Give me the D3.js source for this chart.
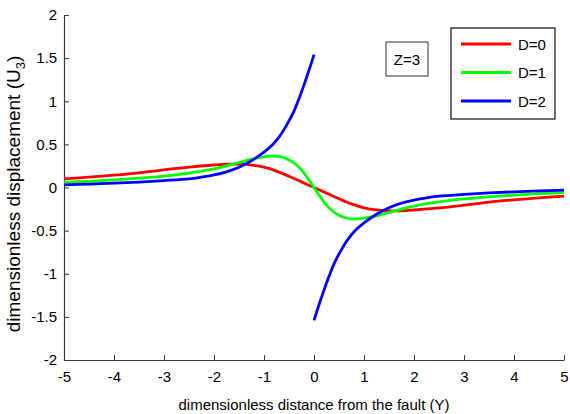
<!DOCTYPE html>
<html><head><meta charset="utf-8">
<script src="https://cdn.jsdelivr.net/npm/d3@7"></script>
<style>
body{margin:0;background:#fff;}
text{font-family:"Liberation Sans",Arial,Helvetica,sans-serif;fill:#000;}
</style></head>
<body><svg id="c" width="570" height="414"></svg>
<script>
// ---- data ----
const xTicks = [-5,-4,-3,-2,-1,0,1,2,3,4,5];
const yTicks = [-2,-1.5,-1,-0.5,0,0.5,1,1.5,2];
const seriesNames = ["D=0","D=1","D=2"];
const seriesColors = ["#ff0000","#00ff00","#0000ff"];

const redY = [-5,-4.5,-4,-3.5,-3,-2.5,-2,-1.75,-1.5,-1.25,-1,-0.75,-0.5,-0.25,0,0.25,0.5,0.75,1,1.25,1.5,1.75,2,2.5,3,3.5,4,4.5,5];
const redU = [0.10,0.12,0.143,0.17,0.205,0.237,0.261,0.27,0.27,0.26,0.235,0.19,0.13,0.065,0,-0.065,-0.13,-0.19,-0.235,-0.26,-0.27,-0.27,-0.261,-0.237,-0.205,-0.17,-0.143,-0.12,-0.10];

const greenY = [-5,-4.5,-4,-3.5,-3,-2.5,-2,-1.75,-1.5,-1.25,-1,-0.85,-0.7,-0.55,-0.4,-0.25,-0.1,0,0.1,0.25,0.4,0.55,0.7,0.85,1,1.25,1.5,1.75,2,2.5,3,3.5,4,4.5,5];
const greenU = [0.06,0.072,0.088,0.108,0.133,0.167,0.215,0.25,0.29,0.33,0.356,0.363,0.36,0.335,0.285,0.205,0.085,0,-0.085,-0.205,-0.285,-0.335,-0.36,-0.363,-0.356,-0.33,-0.29,-0.25,-0.215,-0.167,-0.133,-0.108,-0.088,-0.072,-0.06];

const blueLeftY = [-5,-4.5,-4,-3.5,-3,-2.5,-2.25,-2,-1.75,-1.5,-1.25,-1,-0.85,-0.7,-0.55,-0.4,-0.3,-0.2,-0.1,0];
const blueLeftU = [0.03,0.04,0.05,0.063,0.08,0.1,0.12,0.145,0.182,0.235,0.31,0.41,0.485,0.585,0.72,0.885,1.03,1.19,1.36,1.54];
const blueRightY = [0,0.1,0.2,0.3,0.4,0.55,0.7,0.85,1,1.25,1.5,1.75,2,2.25,2.5,3,3.5,4,4.5,5];
const blueRightU = [-1.54,-1.36,-1.19,-1.03,-0.885,-0.72,-0.585,-0.485,-0.41,-0.31,-0.235,-0.182,-0.145,-0.12,-0.1,-0.08,-0.063,-0.05,-0.04,-0.03];

// ---- chart ----
const svg = d3.select("#c");
const x = d3.scaleLinear().domain([-5,5]).range([64,564]);
const y = d3.scaleLinear().domain([-2,2]).range([360,15]);
const axisColor = "#3a3a3a";

const fmt = d => String(d);
const gx = svg.append("g").attr("transform","translate(0,360)")
  .call(d3.axisBottom(x).tickValues(xTicks).tickFormat(fmt).tickSizeInner(-5).tickSizeOuter(0).tickPadding(11));
const gy = svg.append("g").attr("transform","translate(64,0)")
  .call(d3.axisLeft(y).tickValues(yTicks).tickFormat(fmt).tickSizeInner(-5).tickSizeOuter(0).tickPadding(11));
[gx,gy].forEach(g=>{
  g.select(".domain").attr("stroke",axisColor).attr("stroke-width",1.2);
  g.selectAll(".tick line").attr("stroke",axisColor).attr("stroke-width",1);
  g.selectAll(".tick text").attr("font-size",15).attr("fill","#000")
   .attr("font-family","'Liberation Sans',Arial,sans-serif");
});
gx.selectAll(".tick text").attr("dy","0.71em");
gy.selectAll(".tick text").attr("dx","4");

const line = d3.line().x(d=>x(d[0])).y(d=>y(d[1])).curve(d3.curveCatmullRom.alpha(0.5));
const zip = (a,b) => a.map((v,i)=>[v,b[i]]);
const paths = [
  [zip(redY,redU), seriesColors[0]],
  [zip(greenY,greenU), seriesColors[1]],
  [zip(blueLeftY,blueLeftU), seriesColors[2]],
  [zip(blueRightY,blueRightU), seriesColors[2]]
];
paths.forEach(([pts,c])=>{
  svg.append("path").attr("d",line(pts)).attr("fill","none")
    .attr("stroke",c).attr("stroke-width",2.8).attr("stroke-linejoin","round");
});

// axis labels
svg.append("text").attr("x",314).attr("y",410).attr("text-anchor","middle")
  .attr("font-size",15).text("dimensionless distance from the fault (Y)");
const yl = svg.append("text").attr("transform","translate(20,194) rotate(-90)")
  .attr("text-anchor","middle").attr("font-size",19);
yl.append("tspan").text("dimensionless displacement (U");
yl.append("tspan").attr("font-size",13).attr("dy",5).text("3");
yl.append("tspan").attr("dy",-5).text(")");

// Z=3 annotation box
svg.append("rect").attr("x",386).attr("y",42).attr("width",42).attr("height",34)
  .attr("fill","#fff").attr("stroke","#333").attr("stroke-width",1);
svg.append("text").attr("x",407).attr("y",64.5).attr("text-anchor","middle")
  .attr("font-size",15).text("Z=3");

// legend
svg.append("rect").attr("x",451).attr("y",28).attr("width",104).attr("height",91)
  .attr("fill","#fff").attr("stroke","#222").attr("stroke-width",1.3);
const rowsY = [44,72.5,101];
seriesNames.forEach((n,i)=>{
  svg.append("line").attr("x1",461).attr("x2",511).attr("y1",rowsY[i]).attr("y2",rowsY[i])
    .attr("stroke",seriesColors[i]).attr("stroke-width",2.8);
  svg.append("text").attr("x",518).attr("y",rowsY[i]+5.5).attr("font-size",15).text(n);
});
</script></body></html>
